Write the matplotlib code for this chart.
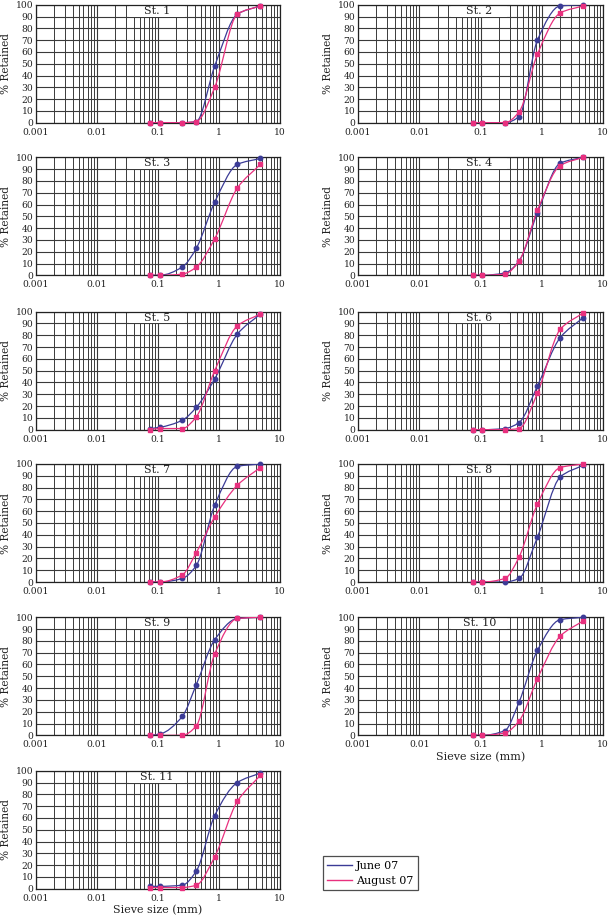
import numpy as np
import matplotlib
matplotlib.use("Agg")
import matplotlib.pyplot as plt
from matplotlib.path import Path
from matplotlib.patches import PathPatch, Rectangle
from matplotlib.lines import Line2D
from matplotlib.ticker import LogLocator, FixedLocator, NullFormatter

plt.rcParams['font.family'] = ['DejaVu Serif']

# sieve sizes (mm)
sieve = [0.075, 0.106, 0.25, 0.425, 0.85, 2.0, 4.75]

stations = ["St. 1", "St. 2", "St. 3", "St. 4", "St. 5", "St. 6",
            "St. 7", "St. 8", "St. 9", "St. 10", "St. 11"]

# % retained, June 07
june = [
    [0, 0, 0, 1, 48, 92, 99],
    [0, 0, 0, 5, 70, 99, 100],
    [0, 0, 7, 23, 62, 94, 99],
    [0, 0, 2, 12, 53, 95, 100],
    [1, 2, 8, 19, 43, 81, 98],
    [0, 0, 1, 6, 37, 78, 95],
    [0, 0, 3, 14, 65, 98, 100],
    [0, 0, 0, 3, 38, 89, 99],
    [0, 1, 16, 43, 81, 99, 100],
    [0, 0, 4, 28, 72, 98, 100],
    [2, 2, 3, 15, 62, 90, 98],
]

# % retained, August 07
august = [
    [0, 0, 0, 1, 30, 92, 99],
    [0, 0, 0, 9, 58, 93, 99],
    [0, 0, 1, 7, 31, 74, 94],
    [0, 0, 1, 12, 55, 93, 100],
    [0, 1, 1, 11, 50, 88, 98],
    [0, 0, 0, 1, 31, 85, 99],
    [0, 0, 6, 25, 55, 82, 97],
    [0, 0, 3, 21, 66, 97, 100],
    [0, 0, 0, 8, 69, 99, 100],
    [0, 0, 2, 12, 48, 84, 97],
    [1, 1, 1, 3, 27, 74, 96],
]

series_labels = ["June 07", "August 07"]
c_june = "#3b3b96"
c_aug = "#e8307e"
grid_c = "#3a3a3a"


def smooth_curve(ax, x, y, color):
    # monotone cubic Bezier through the points, in log-x space
    lx = np.log10(np.asarray(x, float))
    y = np.asarray(y, float)
    h = np.diff(lx)
    d = np.diff(y) / h
    n = len(lx)
    m = np.zeros(n)
    m[0], m[-1] = d[0], d[-1]
    for i in range(1, n - 1):
        if d[i - 1] * d[i] > 0:
            w1 = 2 * h[i] + h[i - 1]
            w2 = h[i] + 2 * h[i - 1]
            m[i] = (w1 + w2) / (w1 / d[i - 1] + w2 / d[i])
    verts = [(lx[0], y[0])]
    codes = [Path.MOVETO]
    for i in range(n - 1):
        verts += [(lx[i] + h[i] / 3, y[i] + m[i] * h[i] / 3),
                  (lx[i + 1] - h[i] / 3, y[i + 1] - m[i + 1] * h[i] / 3),
                  (lx[i + 1], y[i + 1])]
        codes += [Path.CURVE4] * 3
    verts = np.array(verts)
    verts[:, 0] = 10 ** verts[:, 0]
    ax.add_patch(PathPatch(Path(verts, codes), fill=False, edgecolor=color,
                           lw=0.9, transform=ax.transData, zorder=4))


fig = plt.figure(figsize=(6.13, 9.16), dpi=100)
W, H = 613, 916
col_x = [36, 358]
col_w = [244, 245]
row_top = [4.7, 157.3, 311.7, 464.0, 617.3, 770.7]
ax_h = 118

for k, name in enumerate(stations):
    r, c = divmod(k, 2)
    ax = fig.add_axes([col_x[c] / W, 1 - (row_top[r] + ax_h) / H,
                       col_w[c] / W, ax_h / H])
    ax.set_xscale("log")
    ax.set_xlim(0.001, 10)
    ax.set_ylim(0, 100)
    ax.xaxis.set_major_locator(FixedLocator([0.001, 0.01, 0.1, 1, 10]))
    ax.set_xticklabels(["0.001", "0.01", "0.1", "1", "10"])
    ax.xaxis.set_minor_locator(LogLocator(base=10, subs=np.arange(2, 10), numticks=20))
    ax.xaxis.set_minor_formatter(NullFormatter())
    ax.set_yticks(np.arange(0, 101, 10))
    ax.grid(which="major", color=grid_c, lw=0.8, zorder=1)
    ax.grid(which="minor", axis="x", color=grid_c, lw=0.7, zorder=1)
    ax.set_axisbelow(True)
    ax.tick_params(which="both", length=0, labelsize=6.6, colors="#222222")
    ax.tick_params(axis="x", pad=3.5)
    ax.tick_params(axis="y", pad=2)
    for lbl in ax.get_yticklabels():
        lbl.set_verticalalignment("center_baseline")
    for sp in ax.spines.values():
        sp.set_color("#222222")
        sp.set_linewidth(0.9)

    # white label box behind the station name
    ax.add_patch(Rectangle((0.033, 90), 0.272 - 0.033, 10, facecolor="white",
                           edgecolor="none", zorder=2))
    ax.text(0.096, 95, name, ha="center", va="center", fontsize=8, color="#222222", zorder=3)

    smooth_curve(ax, sieve, june[k], c_june)
    smooth_curve(ax, sieve, august[k], c_aug)
    ax.plot(sieve, june[k], ls="none", marker="o", ms=3.2, color=c_june, zorder=5, clip_on=False)
    ax.plot(sieve, august[k], ls="none", marker="s", ms=3.2, color=c_aug, zorder=6, clip_on=False)

    ax.set_ylabel("% Retained", fontsize=7.6, color="#222222", labelpad=3)
    if name in ("St. 10", "St. 11"):
        ax.set_xlabel("Sieve size (mm)", fontsize=8, color="#222222", labelpad=2)

handles = [Line2D([], [], color=c_june, lw=1), Line2D([], [], color=c_aug, lw=1)]
leg = fig.legend(handles, series_labels, loc="lower left",
                 bbox_to_anchor=(323 / W, 1 - 890 / H), fontsize=8, frameon=True,
                 fancybox=False, edgecolor="#222222", handlelength=2.2,
                 borderpad=0.4, labelspacing=0.45, handletextpad=0.4, borderaxespad=0)
leg.get_frame().set_linewidth(0.9)

fig.savefig("out.png", dpi=100)
